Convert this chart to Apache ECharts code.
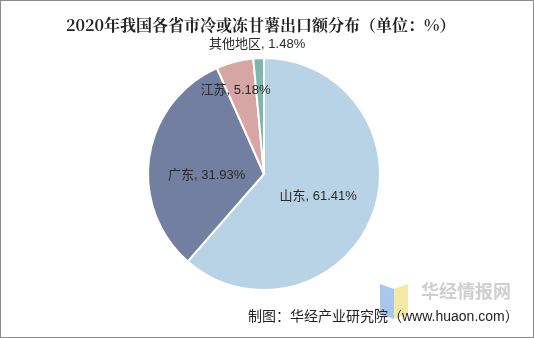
<!DOCTYPE html>
<html><head><meta charset="utf-8">
<script src="https://cdn.jsdelivr.net/npm/echarts@6/dist/echarts.min.js"></script>
<style>html,body{margin:0;padding:0;background:#fff}#c{width:534px;height:338px;box-sizing:border-box;border:1px solid #8c8c8c}</style>
</head><body><div id="c"></div>
<script>
const categories = ['山东', '广东', '江苏', '其他地区'];
const values = [61.41, 31.93, 5.18, 1.48];
const colors = ['#b7d3e5', '#737fa1', '#d5a6a3', '#7eb6ae'];
const titleText = '2020年我国各省市冷或冻甘薯出口额分布（单位：%）';
const sourceText = '制图：华经产业研究院（www.huaon.com）';

const labelOffsets = [[-3, 1], [3, 10], [-13, -25], [-4, -69]];
const chart = echarts.init(document.getElementById('c'));
const data = categories.map((n, i) => ({
  name: n, value: values[i], itemStyle: { color: colors[i] },
  label: { position: 'inside', offset: labelOffsets[i] }
}));
chart.setOption({
  animation: false,
  title: { text: titleText, left: 60, top: 11,
    textStyle: { fontFamily: 'Noto Serif CJK SC, Noto Sans CJK SC', fontSize: 16, fontWeight: 'bold', color: '#222' } },
  graphic: [
    { type: 'polygon', shape: { points: [[379, 283], [393, 288], [393, 318], [379, 313]] }, style: { fill: '#a9c6ee' } },
    { type: 'polygon', shape: { points: [[393, 288], [407, 283], [407, 313], [393, 318]] }, style: { fill: '#f7e7a6' } },
    { type: 'text', left: 420, top: 281, style: { text: '华经情报网', fontFamily: 'Noto Sans CJK SC', fontSize: 18, fontWeight: 'bold', fill: '#cfcfcf' } },
    { type: 'text', left: 247, top: 309, style: { text: sourceText, fontFamily: 'Liberation Sans, Noto Sans CJK SC', fontSize: 14, fill: '#222' } }
  ],
  series: [{
    type: 'pie',
    center: [263, 173],
    radius: [0, 116],
    startAngle: 90,
    clockwise: true,
    avoidLabelOverlap: false,
    itemStyle: { borderColor: '#fff', borderWidth: 2 },
    labelLine: { show: false },
    label: { show: true, formatter: p => p.name + ', ' + p.value.toFixed(2) + '%',
      fontFamily: 'Liberation Sans, Noto Sans CJK SC', fontSize: 13, color: '#2a2a2a' },
    data: data
  }]
});
</script></body></html>
